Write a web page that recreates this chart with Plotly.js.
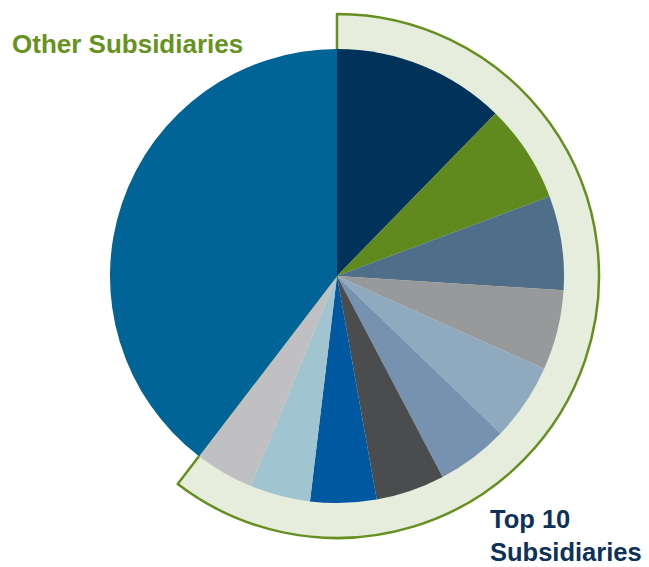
<!DOCTYPE html>
<html>
<head>
<meta charset="utf-8">
<script src="https://cdn.plot.ly/plotly-3.0.1.min.js"></script>
<style>html,body{margin:0;padding:0;background:#fff;}#chart{width:649px;height:567px;}</style>
</head>
<body>
<div id="chart"></div>
<script>
// Share of total (%), clockwise from 12 o'clock
const subsidiaries = ["Subsidiary 1","Subsidiary 2","Subsidiary 3","Subsidiary 4","Subsidiary 5",
                      "Subsidiary 6","Subsidiary 7","Subsidiary 8","Subsidiary 9","Subsidiary 10"];
const top10Values = [12.3, 7.0, 6.7, 5.7, 5.5, 5.1, 4.9, 4.7, 4.3, 4.2];
const otherLabel = "Other Subsidiaries";
const otherValue = 39.6;
const groupLabels = ["Top 10 Subsidiaries", "Other Subsidiaries"];

const sliceColors = ["#00325a","#618a1e","#4e6e8a","#98999b","#8fa9bf",
                     "#7791b1","#4b4c4e","#0058a0","#a0c5d0","#c0bfc1"];
const otherColor = "#006496";

const top10Sum = top10Values.reduce((a,b)=>a+b,0);

const W = 649, H = 567, cx = 337, cy = 276, rPie = 227, rRing = 262;
function dom(r){
  return {x:[(cx-r)/W,(cx+r)/W], y:[(H-cy-r)/H,(H-cy+r)/H]};
}

const ring = {
  type:"pie", values:[top10Sum, otherValue], labels:groupLabels,
  sort:false, direction:"clockwise", rotation:0,
  domain: dom(rRing),
  marker:{colors:["#e6eddc","rgba(0,0,0,0)"],
          line:{color:["#65901f","rgba(0,0,0,0)"], width:2.5}},
  textinfo:"none", hoverinfo:"skip", showlegend:false
};

const pie = {
  type:"pie", values: top10Values.concat([otherValue]), labels: subsidiaries.concat([otherLabel]),
  sort:false, direction:"clockwise", rotation:0,
  domain: dom(rPie),
  marker:{colors: sliceColors.concat([otherColor]), line:{width:0}},
  textinfo:"none", hoverinfo:"label+percent", showlegend:false
};

const layout = {
  width:W, height:H, margin:{l:0,r:0,t:0,b:0},
  paper_bgcolor:"#fff", showlegend:false,
  font:{family:"Liberation Sans, Arial, sans-serif"},
  annotations:[
    {text:"<b>Other Subsidiaries</b>", xref:"paper", yref:"paper",
     x:10/W, y:(H-44)/H, xanchor:"left", yanchor:"middle", showarrow:false,
     font:{size:26, color:"#67921f"}},
    {text:"<b>Top 10<br>Subsidiaries</b>", xref:"paper", yref:"paper",
     x:489/W, y:0, xanchor:"left", yanchor:"bottom", align:"left", showarrow:false,
     borderpad:0, font:{size:25.5, color:"#0d3158"}}
  ]
};

Plotly.newPlot("chart", [ring, pie], layout, {staticPlot:true, displayModeBar:false});
</script>
</body>
</html>
